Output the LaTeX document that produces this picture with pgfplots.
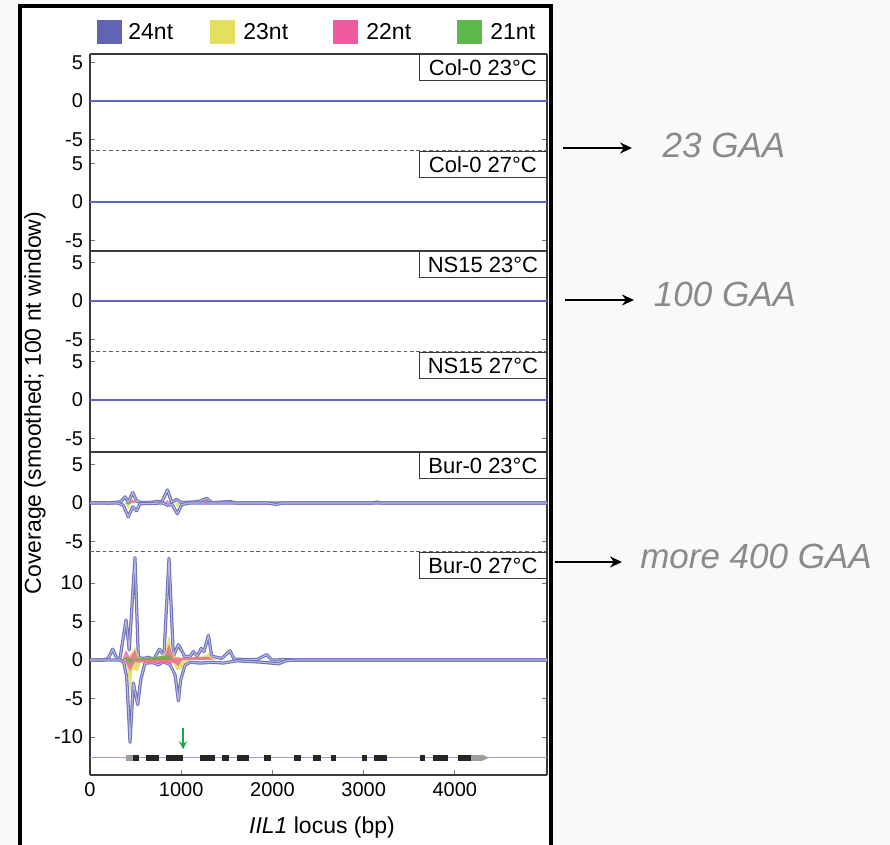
\documentclass[border=0pt]{standalone}
\usepackage{fontspec}
\setmainfont{Liberation Sans}
\usepackage{pgfplots}
\usepackage{pgfplotstable}
\pgfplotsset{compat=1.18}
\usetikzlibrary{arrows.meta}

\definecolor{c24}{HTML}{5F64B4}
\definecolor{c23}{HTML}{E2E05E}
\definecolor{c22}{HTML}{F05A9E}
\definecolor{c21}{HTML}{5CB848}
\definecolor{frame}{HTML}{3A3A3A}
\definecolor{annot}{HTML}{8A8A8A}
\definecolor{geneline}{HTML}{A596D2}

% Bur-0 23C, sense (+) and antisense (-) coverage
\pgfplotstableread{
x y
0 0
100 0.05
200 0
300 0.1
340 0.2
384 0.8
420 0.1
468 1.35
512 0.25
560 0.05
680 0.1
730 0.2
790 0.15
848 1.7
895 0.1
950 0.45
1005 0.05
1150 0.15
1206 0.25
1279 0.6
1334 0.05
1420 0.1
1535 0.2
1600 0
3100 0
3143 0.12
3200 0
5010 0
}\bfivepos
\pgfplotstableread{
x y
0 0
300 0
365 -0.3
420 -1.8
468 -0.5
512 -1.0
548 -0.1
800 0
848 -0.3
900 -0.2
958 -1.4
1005 -0.2
1100 0
1950 0
2050 -0.2
2100 0
5010 0
}\bfiveneg

% Bur-0 27C
\pgfplotstableread{
x y
0 0
150 0
200 0.2
248 1.4
300 0.1
330 0.3
395 5.2
430 1.3
493 13.3
530 0.3
585 0.2
640 0.35
700 0.1
760 1.4
811 0.6
866 13.2
914 0.5
969 2.0
1042 0.4
1100 0.5
1133 1.1
1177 0.5
1217 1.5
1250 1.1
1298 3.2
1334 0.5
1444 0.2
1535 1.2
1579 0.1
1830 0.05
1937 0.7
1992 0
2200 0.05
2250 0
5010 0
}\bsixpos
\pgfplotstableread{
x y
0 0
329 0
370 -0.3
402 -2.2
439 -10.7
475 -3.0
523 -5.8
556 -2.6
603 -0.4
694 -0.35
749 -0.65
804 -0.2
877 -0.6
932 -1.9
969 -5.3
994 -2.6
1042 -0.65
1097 -0.3
1206 -0.4
1352 -0.3
1462 -0.4
1608 -0.1
1900 -0.3
2065 -0.5
2150 -0.1
2250 0
5010 0
}\bsixneg

\pgfplotsset{
  panel/.style={scale only axis, width=228.5pt, xmin=0, xmax=5010,
    axis y line*=box,
    axis line style={frame, line width=0.7pt},
    ytick={-5,0,5}, yticklabels={-5,0,5},
    major tick length=2.5pt, tick style={frame!70, line width=0.4pt},
    ticklabel style={font=\fontsize{10}{12}\selectfont}},
  nox/.style={axis x line=none},
  flat/.style={c24, line width=0.9pt},
  band/.style={c24!92, line width=1.6pt, line join=round},
  bandin/.style={c24!45, line width=0.55pt, line join=round},
  s23/.style={draw=none, fill=c23, fill opacity=0.9},
  s22/.style={draw=none, fill=c22, fill opacity=0.75},
  s21/.style={draw=none, fill=c21, fill opacity=0.9},
}

\begin{document}
\begin{tikzpicture}
\useasboundingbox (0,0) rectangle (445pt,422.5pt);
\fill[gray!5] (0,0) rectangle (445pt,422.5pt);
\fill[white] (10pt,0) rectangle (275.5pt,419.5pt);

% Col-0 23C
\begin{axis}[panel, nox, at={(45pt,347pt)}, anchor=south west, height=48.5pt, ymin=-6.49, ymax=6.10]
\addplot[flat] coordinates {(0,0) (5010,0)};
\end{axis}
% Col-0 27C
\begin{axis}[panel, nox, at={(45pt,297pt)}, anchor=south west, height=50pt, ymin=-6.36, ymax=6.62]
\addplot[flat] coordinates {(0,0) (5010,0)};
\end{axis}
% NS15 23C
\begin{axis}[panel, nox, at={(45pt,246.5pt)}, anchor=south west, height=50.5pt, ymin=-6.62, ymax=6.49]
\addplot[flat] coordinates {(0,0) (5010,0)};
\end{axis}
% NS15 27C
\begin{axis}[panel, nox, at={(45pt,196.5pt)}, anchor=south west, height=50pt, ymin=-6.75, ymax=6.23]
\addplot[flat] coordinates {(0,0) (5010,0)};
\end{axis}
% Bur-0 23C
\begin{axis}[panel, nox, at={(45pt,146.5pt)}, anchor=south west, height=50pt, ymin=-6.36, ymax=6.62]
\addplot[band] table {\bfivepos};
\addplot[bandin] table {\bfivepos};
\addplot[band] table {\bfiveneg};
\addplot[bandin] table {\bfiveneg};
\addplot[s23] coordinates {(440,0) (468,0.4) (500,0)};
\addplot[s23] coordinates {(390,0) (420,-0.8) (450,0)};
\addplot[s23] coordinates {(930,0) (958,-0.6) (990,0)};
\addplot[s22] coordinates {(430,0) (468,0.5) (500,0)};
\addplot[s22] coordinates {(820,0) (848,0.4) (880,0)};
\addplot[s22] coordinates {(1250,0) (1279,0.3) (1310,0)};
\addplot[s21] coordinates {(380,0) (420,-0.2) (460,0)};
\end{axis}
% Bur-0 27C
\begin{axis}[panel, at={(45pt,35pt)}, anchor=south west, height=111.5pt, ymin=-14.94, ymax=14.03,
    axis x line*=bottom,
    ytick={-10,-5,0,5,10}, yticklabels={-10,-5,0,5,10},
    xtick={0,1000,2000,3000,4000}, xticklabels={0,1000,2000,3000,4000},
    unbounded coords=jump]
\addplot[band] table {\bsixpos};
\addplot[bandin] table {\bsixpos};
\addplot[band] table {\bsixneg};
\addplot[bandin] table {\bsixneg};
\addplot[s23] coordinates {(380,0) (440,0.6) (493,1.7) (540,0.2) (760,0.4) (820,0.8) (866,3.2) (910,0.6) (1000,0.2) (1250,0.5) (1298,0.9) (1340,0.2) (1400,0)};
\addplot[s23] coordinates {(380,0) (410,-1.0) (439,-4.3) (470,-1.2) (520,-1.5) (560,-0.3) (900,-0.2) (950,-1.3) (1000,-1.2) (1040,-0.3) (1100,0)};
\addplot[s22] coordinates {(350,0) (395,1.3) (440,0.3) (493,1.3) (530,0.1) (820,0.5) (866,2.1) (910,0.3) (1298,0.4) (1350,0)};
\addplot[s22] coordinates {(380,0) (439,-1.5) (490,-0.3) (930,-0.4) (969,-0.8) (1010,0)};
\addplot[s21] coordinates {(350,0) (395,0.35) (450,0.1) (866,0.6) (920,0)};
\addplot[s21] coordinates {(400,0) (439,-0.4) (480,0)};
% gene model
\addplot[geneline, line width=0.5pt] coordinates {(0,-12.7) (5010,-12.7)};
\addplot[gray!75, line width=3pt] coordinates {(395,-12.7) (471,-12.7)};
\addplot[gray!75, line width=3pt, -{Triangle[length=4pt,width=3pt]}] coordinates {(4178,-12.7) (4380,-12.7)};
\addplot[black!85, line width=3pt] coordinates {
  (471,-12.7) (537,-12.7) (537,nan)
  (614,-12.7) (757,-12.7) (757,nan)
  (833,-12.7) (1020,-12.7) (1020,nan)
  (1206,-12.7) (1371,-12.7) (1371,nan)
  (1447,-12.7) (1524,-12.7) (1524,nan)
  (1612,-12.7) (1743,-12.7) (1743,nan)
  (1908,-12.7) (1985,-12.7) (1985,nan)
  (2237,-12.7) (2314,-12.7) (2314,nan)
  (2445,-12.7) (2533,-12.7) (2533,nan)
  (2643,-12.7) (2697,-12.7) (2697,nan)
  (2982,-12.7) (3037,-12.7) (3037,nan)
  (3114,-12.7) (3257,-12.7) (3257,nan)
  (3618,-12.7) (3673,-12.7) (3673,nan)
  (3761,-12.7) (3925,-12.7) (3925,nan)
  (4035,-12.7) (4178,-12.7)};
\addplot[color={rgb,255:red,30;green,165;blue,70}, line width=0.7pt, -{Stealth[length=4pt,width=4pt]}] coordinates {(1020,-8.9) (1020,-11.6)};
\end{axis}

% panel separators
\draw[frame, line width=0.7pt] (45pt,395.5pt) -- (273.5pt,395.5pt);
\draw[frame, line width=0.7pt] (45pt,297pt) -- (273.5pt,297pt);
\draw[frame, line width=0.7pt] (45pt,196.5pt) -- (273.5pt,196.5pt);
\foreach \yy in {347pt,246.5pt,146.5pt}
  \draw[frame!80, line width=0.5pt, dash pattern=on 1.8pt off 1.4pt] (45pt,\yy) -- (273.5pt,\yy);

% panel labels
\tikzset{plab/.style={draw=frame, line width=0.6pt, fill=white, anchor=north east,
  minimum width=63.5pt, minimum height=13pt, inner sep=1pt, font=\fontsize{11}{13}\selectfont}}
\node[plab] at (273.5pt,395.5pt) {Col-0 23°C};
\node[plab] at (273.5pt,347pt) {Col-0 27°C};
\node[plab] at (273.5pt,297pt) {NS15 23°C};
\node[plab] at (273.5pt,246.5pt) {NS15 27°C};
\node[plab] at (273.5pt,196.5pt) {Bur-0 23°C};
\node[plab] at (273.5pt,146.5pt) {Bur-0 27°C};

% legend
\begin{scope}[every node/.style={anchor=west, inner sep=0pt, font=\fontsize{11.5}{13}\selectfont}]
\fill[c24] (48.5pt,400.5pt) rectangle (61pt,412.5pt);
\node at (64pt,406.5pt) {24nt};
\fill[c23] (105pt,400.5pt) rectangle (117.5pt,412.5pt);
\node at (121.5pt,406.5pt) {23nt};
\fill[c22] (166.5pt,400.5pt) rectangle (179pt,412.5pt);
\node at (183pt,406.5pt) {22nt};
\fill[c21] (228.5pt,400.5pt) rectangle (241pt,412.5pt);
\node at (245pt,406.5pt) {21nt};
\end{scope}

% axis titles
\node[rotate=90, font=\fontsize{11.5}{13}\selectfont] at (17.5pt,221pt) {Coverage (smoothed; 100 nt window)};
\node[font=\fontsize{11.5}{13}\selectfont] at (161pt,8.5pt) {\textit{IIL1} locus (bp)};

% slide frame
\draw[black, line width=2pt] (10pt,0) -- (10pt,419.5pt) -- (275.5pt,419.5pt) -- (275.5pt,0);

% annotations
\begin{scope}[every node/.style={text=annot, font=\fontsize{17.5}{20}\selectfont\itshape}]
\draw[line width=1pt, -{Stealth[length=6pt,width=5.5pt]}] (281.5pt,348.5pt) -- (316pt,348.5pt);
\node at (362pt,350pt) {23 GAA};
\draw[line width=1pt, -{Stealth[length=6pt,width=5.5pt]}] (282.5pt,272.5pt) -- (317pt,272.5pt);
\node at (362.5pt,275.5pt) {100 GAA};
\draw[line width=1pt, -{Stealth[length=6pt,width=5.5pt]}] (277.5pt,141.5pt) -- (311pt,141.5pt);
\node at (378pt,144.5pt) {more 400 GAA};
\end{scope}
\end{tikzpicture}
\end{document}
